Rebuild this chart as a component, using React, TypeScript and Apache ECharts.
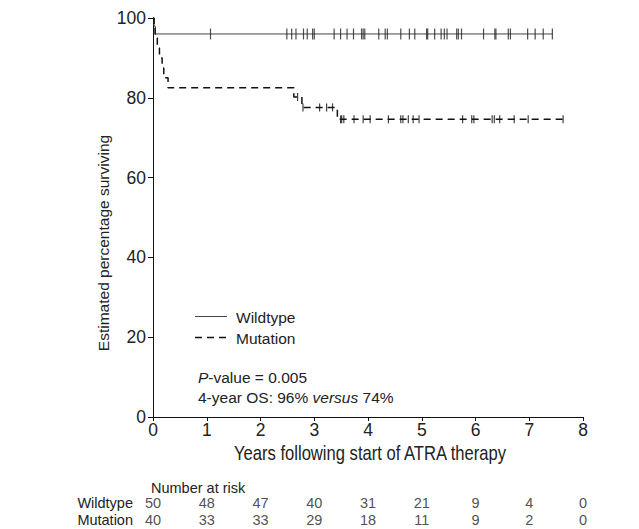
import React, { useEffect, useRef } from "react";
import * as echarts from "echarts";

// ---- data ----
const xTicks = [0, 1, 2, 3, 4, 5, 6, 7, 8];
const yTicks = [0, 20, 40, 60, 80, 100];

// Kaplan–Meier step points (time of event, survival after event)
const wildtypeEventTimes = [0, 0.02, 0.04];
const wildtypeSurvival = [100, 98, 96];
const wildtypeLastFollowUp = 7.43;
const wildtypeCensored = [
  1.07, 2.49, 2.58, 2.66, 2.8, 2.87, 2.97, 3.0, 3.37, 3.49, 3.61, 3.73, 3.88, 3.91, 3.94,
  4.2, 4.32, 4.36, 4.61, 4.77, 4.87, 5.09, 5.11, 5.24, 5.36, 5.42, 5.47, 5.65, 5.68, 5.74,
  6.15, 6.36, 6.38, 6.61, 6.65, 6.97, 7.11, 7.26, 7.43,
];

const mutationEventTimes = [0, 0.02, 0.04, 0.08, 0.12, 0.17, 0.2, 0.28, 2.62, 2.77, 3.43];
const mutationSurvival = [100, 97.5, 95, 92.5, 90, 87.5, 85, 82.5, 80.2, 77.6, 74.6];
const mutationLastFollowUp = 7.63;
const mutationCensored = [
  2.69, 2.79, 3.1, 3.23, 3.34, 3.49, 3.51, 3.55, 3.74, 3.91, 4.04, 4.38, 4.61, 4.65, 4.75,
  4.84, 4.95, 5.76, 5.93, 5.97, 6.31, 6.35, 6.45, 6.72, 6.98, 7.63,
];

const riskTimes = [0, 1, 2, 3, 4, 5, 6, 7, 8];
const riskGroups = ["Wildtype", "Mutation"];
const wildtypeAtRisk = [50, 48, 47, 40, 31, 21, 9, 4, 0];
const mutationAtRisk = [40, 33, 33, 29, 18, 11, 9, 2, 0];

// ---- helpers ----
function stepLine(times: number[], surv: number[], end: number) {
  const pts: number[][] = [[times[0], surv[0]]];
  for (let i = 1; i < times.length; i++) {
    pts.push([times[i], surv[i - 1]]);
    pts.push([times[i], surv[i]]);
  }
  pts.push([end, surv[surv.length - 1]]);
  return pts;
}
function survAt(times: number[], surv: number[], t: number) {
  let s = surv[0];
  for (let i = 0; i < times.length; i++) if (times[i] <= t) s = surv[i];
  return s;
}

const REG = '"Liberation Sans", Arial, sans-serif';
const TXT = "#222";

export default function App() {
  const ref = useRef<HTMLDivElement>(null);
  useEffect(() => {
    if (!ref.current) return;
    const chart = echarts.init(ref.current, undefined, { renderer: "svg" });
    const wtLine = stepLine(wildtypeEventTimes, wildtypeSurvival, wildtypeLastFollowUp);
    const muLine = stepLine(mutationEventTimes, mutationSurvival, mutationLastFollowUp);
    const wtCens = wildtypeCensored.map((t) => [t, survAt(wildtypeEventTimes, wildtypeSurvival, t)]);
    const muCens = mutationCensored.map((t) => [t, survAt(mutationEventTimes, mutationSurvival, t)]);
    const riskData: any[] = [];
    riskTimes.forEach((t, i) => {
      riskData.push([t, riskGroups[0], wildtypeAtRisk[i]]);
      riskData.push([t, riskGroups[1], mutationAtRisk[i]]);
    });

    chart.setOption({
      animation: false,
      backgroundColor: "#fff",
      grid: [
        { left: 153, right: 56, top: 18, bottom: 112 },
        { left: 153, right: 56, top: 494, height: 34 },
      ],
      xAxis: [
        {
          type: "value",
          gridIndex: 0,
          min: xTicks[0],
          max: xTicks[xTicks.length - 1],
          interval: 1,
          splitLine: { show: false },
          axisLine: { show: true, lineStyle: { color: "#111", width: 1 } },
          axisTick: { show: true, length: 4, lineStyle: { color: "#111" } },
          axisLabel: { margin: 4, fontFamily: REG, fontSize: 17.5, color: TXT },
        },
        {
          type: "value",
          gridIndex: 1,
          min: 0,
          max: 8,
          show: false,
        },
      ],
      yAxis: [
        {
          type: "value",
          gridIndex: 0,
          min: yTicks[0],
          max: yTicks[yTicks.length - 1],
          interval: 20,
          splitLine: { show: false },
          axisLine: { show: true, lineStyle: { color: "#111", width: 1 } },
          axisTick: { show: true, length: 5, lineStyle: { color: "#111" } },
          axisLabel: { margin: 7, fontFamily: REG, fontSize: 17.5, color: TXT },
        },
        {
          type: "category",
          gridIndex: 1,
          data: riskGroups,
          inverse: true,
          axisLine: { show: false },
          axisTick: { show: false },
          splitLine: { show: false },
          axisLabel: {
            interval: 0,
            hideOverlap: false,
            margin: 20,
            fontFamily: REG,
            fontSize: 14.5,
            lineHeight: 13,
            color: TXT,
          },
        },
      ],
      series: [
        {
          name: "Wildtype",
          type: "line",
          data: wtLine,
          showSymbol: false,
          symbol: "none",
          lineStyle: { color: "#444", width: 1 },
          z: 3,
        },
        {
          name: "Mutation",
          type: "line",
          data: muLine,
          showSymbol: false,
          symbol: "none",
          lineStyle: { color: "#111", width: 1.5, type: [7, 5] },
          z: 3,
        },
        {
          type: "scatter",
          data: wtCens,
          symbol: "rect",
          symbolSize: [1.2, 11],
          itemStyle: { color: "#222" },
          z: 4,
        },
        {
          type: "scatter",
          data: muCens,
          symbol: "rect",
          symbolSize: [1.2, 8],
          itemStyle: { color: "#111" },
          z: 4,
        },
        {
          type: "scatter",
          xAxisIndex: 1,
          yAxisIndex: 1,
          data: riskData,
          symbolSize: 1,
          itemStyle: { color: "rgba(0,0,0,0)" },
          label: {
            show: true,
            position: "inside",
            formatter: (p: any) => String(p.value[2]),
            fontFamily: REG,
            fontSize: 14.5,
            lineHeight: 13,
            color: TXT,
          },
        },
      ],
      graphic: [
        {
          type: "text",
          x: 103,
          y: 243,
          rotation: Math.PI / 2,
          style: {
            text: "Estimated percentage surviving",
            fontFamily: REG,
            fontSize: 15.5,
            fill: TXT,
            align: "center",
            verticalAlign: "middle",
          },
        },
        {
          type: "text",
          x: 370,
          y: 453,
          scaleX: 0.83,
          style: {
            text: "Years following start of ATRA therapy",
            fontFamily: REG,
            fontSize: 20,
            fill: TXT,
            align: "center",
            verticalAlign: "middle",
          },
        },
        {
          type: "line",
          shape: { x1: 195, y1: 316.5, x2: 227, y2: 316.5 },
          style: { stroke: "#444", lineWidth: 1 },
        },
        {
          type: "line",
          shape: { x1: 195, y1: 337.5, x2: 227, y2: 337.5 },
          style: { stroke: "#111", lineWidth: 1.5, lineDash: [7, 5] },
        },
        {
          type: "text",
          x: 236,
          y: 317,
          style: { text: "Wildtype", fontFamily: REG, fontSize: 15.5, fill: TXT, verticalAlign: "middle" },
        },
        {
          type: "text",
          x: 236,
          y: 338,
          style: { text: "Mutation", fontFamily: REG, fontSize: 15.5, fill: TXT, verticalAlign: "middle" },
        },
        {
          type: "text",
          x: 198,
          y: 377,
          style: {
            text: "{i|P}-value = 0.005",
            fontFamily: REG,
            fontSize: 15.5,
            fill: TXT,
            verticalAlign: "middle",
            rich: { i: { fontStyle: "italic", fontFamily: REG, fontSize: 15.5, fill: TXT } },
          },
        },
        {
          type: "text",
          x: 198,
          y: 397,
          style: {
            text: "4-year OS: 96% {i|versus} 74%",
            fontFamily: REG,
            fontSize: 15.5,
            fill: TXT,
            verticalAlign: "middle",
            rich: { i: { fontStyle: "italic", fontFamily: REG, fontSize: 15.5, fill: TXT } },
          },
        },
        {
          type: "text",
          x: 151,
          y: 488,
          style: {
            text: "Number at risk",
            fontFamily: REG,
            fontSize: 14.5,
            lineHeight: 13,
            fill: TXT,
            verticalAlign: "middle",
          },
        },
      ],
    });
    return () => chart.dispose();
  }, []);
  return (
    <div
      ref={ref}
      style={{ position: "absolute", left: 0, top: 0, width: 639, height: 529 }}
    />
  );
}
